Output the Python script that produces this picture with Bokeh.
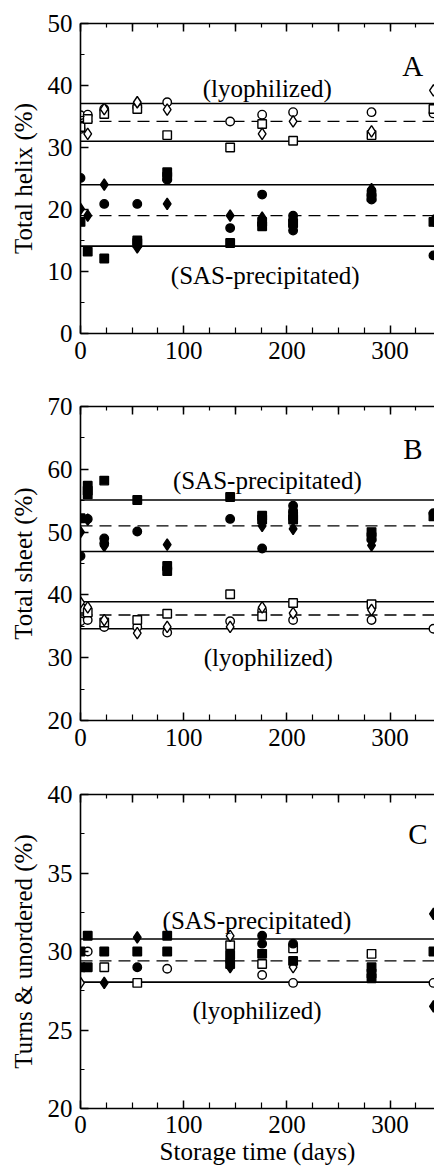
from bokeh.plotting import figure
from bokeh.layouts import column
from bokeh.models import Range1d, LinearAxis, SingleIntervalTicker, FixedTicker, Span, Label
from bokeh.embed import file_html
from bokeh.resources import INLINE

FONT = "Liberation Serif"

# ---------------- data (storage time in days, value in %) ----------------
# Panel A: total helix
helix_sas_circle = [(0, 25.1), (23, 20.9), (55, 20.9), (84, 24.8), (145, 17.0), (176, 22.4),
                    (206, 19.0), (206, 18.2), (206, 17.5), (206, 16.6), (282, 23.0), (282, 22.3),
                    (282, 21.6), (342, 12.6)]
helix_sas_square = [(0, 18.0), (7, 13.2), (23, 12.1), (55, 15.0), (55, 14.6), (84, 26.0), (84, 25.3),
                    (145, 14.6), (176, 18.0), (176, 17.3), (206, 17.8), (282, 22.0), (342, 18.0)]
helix_sas_diamond = [(0, 20.1), (7, 19.0), (23, 24.0), (55, 13.9), (84, 20.9), (145, 19.0),
                     (176, 18.7), (206, 18.6), (282, 23.3), (342, 18.2)]
helix_lyo_circle = [(0, 35.2), (0, 33.0), (7, 35.3), (23, 36.2), (55, 36.5), (84, 37.3), (145, 34.2),
                    (176, 35.3), (206, 35.7), (282, 35.7), (342, 35.5)]
helix_lyo_square = [(0, 33.3), (7, 34.6), (23, 35.4), (55, 36.2), (84, 32.0), (145, 30.0),
                    (176, 33.8), (206, 31.1), (282, 32.0), (342, 36.2)]
helix_lyo_diamond = [(7, 32.2), (23, 36.2), (55, 37.3), (84, 36.1), (176, 32.2), (206, 34.2),
                     (282, 32.6), (342, 39.2)]
helix_solid = [37.1, 31.0, 24.0, 14.1]
helix_dashed = [34.2, 19.0]

# Panel B: total sheet
sheet_sas_circle = [(0, 46.2), (7, 52.1), (23, 49.0), (23, 48.2), (55, 50.1), (84, 44.2), (145, 52.1),
                    (176, 47.4), (206, 54.2), (206, 53.4), (282, 48.8), (342, 53.0)]
sheet_sas_square = [(0, 52.2), (7, 57.4), (7, 56.6), (7, 56.0), (23, 58.2), (55, 55.1), (84, 44.6),
                    (84, 43.8), (145, 55.6), (176, 52.6), (176, 52.0), (206, 52.6), (206, 52.0),
                    (282, 50.0), (282, 49.2), (342, 52.5)]
sheet_sas_diamond = [(0, 50.0), (7, 52.0), (23, 47.8), (84, 48.0), (176, 51.0), (206, 50.5),
                     (282, 47.9)]
sheet_lyo_circle = [(0, 35.8), (7, 36.0), (23, 34.9), (55, 34.9), (84, 34.0), (145, 35.8),
                    (176, 37.5), (206, 36.0), (282, 36.0), (342, 34.6)]
sheet_lyo_square = [(0, 37.8), (7, 37.2), (23, 35.6), (55, 36.0), (84, 37.0), (145, 40.1),
                    (176, 36.6), (206, 38.7), (282, 38.5)]
sheet_lyo_diamond = [(0, 38.8), (7, 38.0), (23, 36.0), (55, 33.9), (84, 34.9), (145, 34.9),
                     (176, 38.0), (206, 37.1), (282, 37.6)]
sheet_solid = [55.1, 46.9, 38.9, 34.6]
sheet_dashed = [51.0, 36.8]

# Panel C: turns & unordered
turns_sas_circle = [(55, 29.0), (145, 29.4), (176, 31.0), (176, 30.5), (206, 30.5)]
turns_sas_square = [(0, 30.0), (0, 29.0), (7, 31.0), (7, 29.0), (23, 30.0), (55, 30.0), (84, 31.0),
                    (84, 30.0), (145, 29.8), (145, 29.2), (176, 29.85), (206, 29.4), (282, 29.0),
                    (282, 28.6), (282, 28.3), (342, 30.0)]
turns_sas_diamond = [(23, 28.0), (55, 30.9), (145, 29.0), (342, 32.4), (342, 26.5)]
turns_lyo_circle = [(7, 30.0), (84, 28.9), (176, 28.5), (206, 28.0), (342, 28.0)]
turns_lyo_square = [(23, 29.0), (55, 28.0), (145, 30.4), (176, 29.2), (206, 30.2), (282, 29.85)]
turns_lyo_diamond = [(0, 28.0), (145, 31.0), (206, 29.0)]
turns_solid = [30.8, 28.05]
turns_dashed = [29.4]

x_major_ticks = [0, 100, 200, 300]
x_minor_ticks = [25, 50, 75, 125, 150, 175, 225, 250, 275, 325]


def style_axis(ax, ticker, labels=True):
    ax.ticker = ticker
    ax.axis_line_width = 1.6
    ax.axis_line_color = "black"
    ax.major_tick_in = 8
    ax.major_tick_out = 0
    ax.minor_tick_in = 4
    ax.minor_tick_out = 0
    ax.major_tick_line_width = 1.5
    ax.minor_tick_line_width = 1.2
    ax.major_label_text_font = FONT
    if labels:
        ax.major_label_text_color = "black"
        ax.major_label_text_font_size = "25px"
        ax.major_label_standoff = 8
    else:
        ax.major_label_text_color = None
        ax.major_label_text_font_size = "1px"
        ax.major_label_standoff = 0


def make_panel(height, top, bottom, y0, y1, yint, ylabel):
    p = figure(width=434, height=height, x_range=Range1d(0, 343), y_range=Range1d(y0, y1),
               output_backend="svg", toolbar_location=None,
               min_border_left=80, min_border_right=0, min_border_top=top, min_border_bottom=bottom)
    p.outline_line_color = None
    p.grid.visible = False
    p.background_fill_color = "white"
    xa = p.xaxis[0]
    style_axis(xa, FixedTicker(ticks=x_major_ticks, minor_ticks=x_minor_ticks))
    xa.minor_tick_in = 6
    ya = p.yaxis[0]
    style_axis(ya, SingleIntervalTicker(interval=yint, num_minor_ticks=2))
    ya.axis_label = ylabel
    ya.axis_label_text_font = FONT
    ya.axis_label_text_font_size = "25px"
    ya.axis_label_text_font_style = "normal"
    ya.axis_label_text_color = "black"
    ya.axis_label_standoff = 8
    top_ax = LinearAxis()
    style_axis(top_ax, SingleIntervalTicker(interval=50, num_minor_ticks=2), labels=False)
    p.add_layout(top_ax, "above")
    return p, xa


def add_levels(p, solid, dashed):
    for v in solid:
        p.add_layout(Span(location=v, dimension="width", line_color="black",
                          line_width=1.6, level="underlay"))
    for v in dashed:
        p.add_layout(Span(location=v, dimension="width", line_color="black",
                          line_width=1.3, line_dash="12 7", level="underlay"))


def add_points(p, data, marker, filled):
    xs = [d[0] for d in data]
    ys = [d[1] for d in data]
    size = {"circle": 8.5, "square": 8.5, "diamond": 11.5}[marker]
    p.scatter(xs, ys, marker=marker, size=size,
              fill_color="black" if filled else "white",
              line_color="black", line_width=1.4)


def add_text(p, x, y, text, size="25px"):
    p.add_layout(Label(x=x, y=y, text=text, text_font=FONT, text_font_size=size,
                       text_align="center", text_baseline="alphabetic", text_color="black"))


# Panel A
pa, _ = make_panel(390, 23, 57, 0, 50, 10, "Total helix (%)")
add_levels(pa, helix_solid, helix_dashed)
for data, mk, f in [(helix_lyo_circle, "circle", False), (helix_lyo_square, "square", False),
                    (helix_lyo_diamond, "diamond", False), (helix_sas_circle, "circle", True),
                    (helix_sas_square, "square", True), (helix_sas_diamond, "diamond", True)]:
    add_points(pa, data, mk, f)
add_text(pa, 181, 39.5, "(lyophilized)")
add_text(pa, 179, 9.35, "(SAS-precipitated)")
add_text(pa, 322, 43.2, "A", "29px")

# Panel B
pb, _ = make_panel(388, 16, 58, 20, 70, 10, "Total sheet (%)")
add_levels(pb, sheet_solid, sheet_dashed)
for data, mk, f in [(sheet_lyo_circle, "circle", False), (sheet_lyo_square, "square", False),
                    (sheet_lyo_diamond, "diamond", False), (sheet_sas_circle, "circle", True),
                    (sheet_sas_square, "square", True), (sheet_sas_diamond, "diamond", True)]:
    add_points(pb, data, mk, f)
add_text(pb, 181, 58.2, "(SAS-precipitated)")
add_text(pb, 182, 30.1, "(lyophilized)")
add_text(pb, 322, 63.3, "B", "29px")

# Panel C
pc, xc = make_panel(393, 16, 63, 20, 40, 5, "Turns & unordered (%)")
add_levels(pc, turns_solid, turns_dashed)
for data, mk, f in [(turns_lyo_circle, "circle", False), (turns_lyo_square, "square", False),
                    (turns_lyo_diamond, "diamond", False), (turns_sas_circle, "circle", True),
                    (turns_sas_square, "square", True), (turns_sas_diamond, "diamond", True)]:
    add_points(pc, data, mk, f)
add_text(pc, 171, 31.97, "(SAS-precipitated)")
add_text(pc, 171, 26.24, "(lyophilized)")
add_text(pc, 327, 37.5, "C", "29px")
xc.major_label_standoff = 7
xc.axis_label = "Storage time (days)"
xc.axis_label_text_font = FONT
xc.axis_label_text_font_size = "25px"
xc.axis_label_text_font_style = "normal"
xc.axis_label_text_color = "black"
xc.axis_label_standoff = 2

layout = column(pa, pb, pc, spacing=0)
open("out.html", "w").write(file_html(layout, INLINE))
